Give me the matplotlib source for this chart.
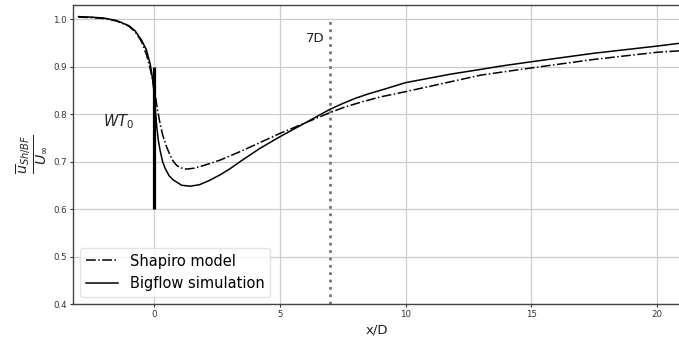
import matplotlib
matplotlib.use("Agg")
import matplotlib.pyplot as plt

# Streamwise position x/D
x_shapiro = [-3.0, -2.5, -2.0, -1.5, -1.0, -0.75, -0.5, -0.3, -0.15, -0.05, 0.05,
             0.12, 0.24, 0.35, 0.5, 0.65, 0.77, 0.9, 1.03, 1.3, 1.6, 2.0,
             2.63, 3.43, 4.22, 5.0, 6.0, 7.0, 7.6, 8.3, 9.0, 10.0, 11.8, 13.0, 13.8,
             15.0, 17.5, 20.0, 20.9]
u_shapiro = [1.004, 1.003, 1.001, 0.996, 0.985, 0.973, 0.953, 0.925, 0.895, 0.870, 0.840,
             0.815, 0.780, 0.755, 0.731, 0.712, 0.700, 0.692, 0.687, 0.684, 0.686, 0.692,
             0.703, 0.721, 0.740, 0.759, 0.781, 0.803, 0.815, 0.826, 0.836, 0.847, 0.868,
             0.882, 0.888, 0.897, 0.915, 0.930, 0.933]

x_bigflow = [-3.0, -2.5, -2.0, -1.5, -1.0, -0.75, -0.5, -0.3, -0.15, -0.05, 0.0,
             0.05, 0.11, 0.17, 0.24, 0.34, 0.44, 0.6, 0.77, 1.1, 1.43, 1.8, 2.2,
             2.63, 3.0, 3.43, 4.22, 5.0, 6.0, 7.0, 7.5, 8.0, 8.5, 9.2, 10.0,
             11.8, 13.0, 13.8, 15.0, 17.5, 20.0, 20.9]
u_bigflow = [1.005, 1.004, 1.002, 0.997, 0.986, 0.975, 0.956, 0.935, 0.905, 0.872, 0.845,
             0.812, 0.773, 0.745, 0.724, 0.700, 0.686, 0.670, 0.661, 0.650, 0.648, 0.651, 0.660,
             0.672, 0.684, 0.700, 0.728, 0.752, 0.781, 0.810, 0.822, 0.833, 0.842, 0.853, 0.866,
             0.884, 0.894, 0.901, 0.910, 0.928, 0.943, 0.949]

turbine_x = 0.0
turbine_span = (0.6, 0.9)
probe_x = 7.0
probe_label = "7D"

x_ticks = [0, 5, 10, 15, 20]
y_ticks = [0.4, 0.5, 0.6, 0.7, 0.8, 0.9, 1.0]

W, H = 679, 344
fig = plt.figure(figsize=(W / 100, H / 100), dpi=100)
ax = fig.add_axes([73 / W, 1 - 304 / H, 608 / W, 299 / H])

ax.grid(True, color="#cccccc", linewidth=0.9, zorder=0)
ax.set_axisbelow(True)

ax.plot(x_shapiro, u_shapiro, color="black", linestyle="-.", linewidth=1.1,
        label="Shapiro model", zorder=3)
ax.plot(x_bigflow, u_bigflow, color="black", linestyle="-", linewidth=1.1,
        label="Bigflow simulation", zorder=3)

ax.vlines(turbine_x, turbine_span[0], turbine_span[1], color="black",
          linewidth=2.3, zorder=4)
ax.vlines(probe_x, 0.4, 1.0, color="#777777", linestyle=":", linewidth=2.0, zorder=2)

ax.text(6.4, 0.96, probe_label, fontsize=9.5, color="#222222",
        ha="center", va="center")
ax.text(-1.39, 0.784, r"$WT_0$", fontsize=10.5, color="#222222",
        ha="center", va="center")

ax.set_xlim(-3.22, 20.95)
ax.set_ylim(0.4, 1.0295)
ax.set_xticks(x_ticks)
ax.set_yticks(y_ticks)
ax.tick_params(length=2.5, width=0.8, pad=2, labelsize=6.2,
               colors="#333333", labelcolor="#333333")

for side in ("left", "bottom", "top"):
    ax.spines[side].set_color("#444444")
    ax.spines[side].set_linewidth(1.0)
ax.spines["right"].set_visible(False)

ax.set_xlabel("x/D", fontsize=9.5, color="#222222", labelpad=3)
ax.set_ylabel(r"$\frac{\overline{u}_{Sh/BF}}{U_\infty}$", fontsize=14.5,
              color="#222222", labelpad=3)

leg = ax.legend(loc="lower left", fontsize=10.5, frameon=True, fancybox=True,
                borderaxespad=0.5, handlelength=2.2)
leg.get_frame().set_edgecolor("#dddddd")

fig.savefig("out.png", dpi=100)
